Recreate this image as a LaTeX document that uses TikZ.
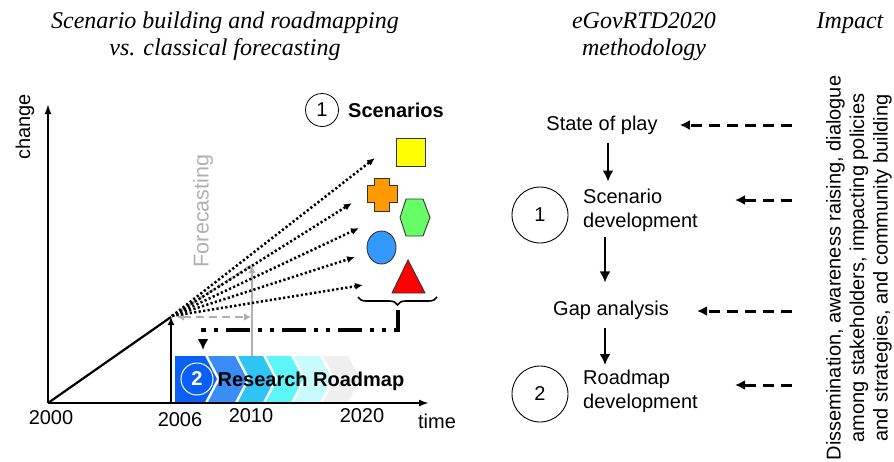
\documentclass[tikz,border=0pt]{standalone}
\usepackage{fontspec}
\setmainfont{Liberation Serif}
\setsansfont{Liberation Sans}
\usetikzlibrary{arrows.meta,decorations.pathreplacing,calc}
\definecolor{cA}{HTML}{0A5FF5}
\definecolor{cB}{HTML}{3A8DF5}
\definecolor{cC}{HTML}{2EC5F5}
\definecolor{cD}{HTML}{5EF5F8}
\definecolor{cE}{HTML}{C8FBFB}
\definecolor{cF}{HTML}{EFEFEF}
\definecolor{fgray}{HTML}{B0B0B0}
\definecolor{sqyellow}{HTML}{FFFF00}
\definecolor{crorange}{HTML}{FF9900}
\definecolor{hxgreen}{HTML}{66FF66}
\definecolor{ciblue}{HTML}{3399FF}
\definecolor{trred}{HTML}{FF0000}
\definecolor{outl}{HTML}{333333}
\begin{document}
\begin{tikzpicture}[x=1pt,y=-1pt,
  lbl/.style={font=\sffamily\fontsize{20}{24}\selectfont, inner sep=0pt},
  ttl/.style={font=\itshape\fontsize{24}{27}\selectfont, inner sep=0pt, anchor=base},
  axisline/.style={line width=2.6pt, -{Latex[length=10pt,width=7pt]}},
  fanline/.style={line width=2.5pt, dash pattern=on 2.2pt off 2.3pt, -{Latex[length=8pt,width=7pt]}},
  metharrow/.style={line width=2.5pt, -{Latex[length=11pt,width=11pt]}},
  impactarrow/.style={line width=3pt, dash pattern=on 11pt off 7pt, -{Latex[length=10pt,width=10pt]}},
  shapeoutl/.style={draw=outl, line width=0.9pt}
]
\useasboundingbox (0,0) rectangle (894,461);

% ---------- titles ----------
\node[ttl] (t1) at (225,28) {Scenario building and roadmapping};
\node[ttl] (t2) at (225,55) {vs. classical forecasting};
\node[ttl] (t3) at (644,28) {eGovRTD2020};
\node[ttl] (t4) at (644,55) {methodology};
\node[ttl] (t5) at (850,28) {Impact};

% ---------- left chart ----------
\coordinate (orig) at (48,403);
\coordinate (xend) at (429,403);
\coordinate (yend) at (48,104);
\coordinate (now) at (171,317);
\coordinate (nowbase) at (171,403);

% grey forecast lines
\coordinate (fctop) at (252,265);
\coordinate (fcbase) at (252,403);
\draw[fgray, line width=2.2pt, -{Latex[length=8pt,width=7pt]}] (fcbase) -- (fctop);
\draw[fgray, line width=2.4pt, dash pattern=on 7pt off 4pt] (180,311) -- (fctop);
\coordinate (dbl1) at (177,317);
\coordinate (dbl2) at (251,317);
\draw[fgray, line width=2.8pt, dash pattern=on 8pt off 5pt, {Latex[length=7pt,width=8pt]}-{Latex[length=7pt,width=8pt]}] (dbl1) -- (dbl2);

% roadmap chevrons
\fill[cA] (175,356) -- (205,356) -- (217,379) -- (205,402) -- (175,402) -- cycle;
\foreach \p/\t/\c in {217/247/cB, 247/275/cC, 275/303/cD, 303/332/cE, 332/360/cF}{
  \fill[\c] (\p-9,356) -- (\t-12,356) -- (\t,379) -- (\t-12,402) -- (\p-9,402) -- (\p+3,379) -- cycle;
}
\node[circle, draw=white, fill=cA, text=white, line width=1pt, minimum size=32pt, inner sep=0pt,
      font=\sffamily\bfseries\fontsize{20}{24}\selectfont] (rm2) at (197,379) {2};
\node[font=\sffamily\bfseries\fontsize{20}{24}\selectfont, inner sep=0pt] (rmtext) at (311,381) {Research Roadmap};

% axes
\draw[axisline] (orig) -- (xend);
\draw[axisline] (orig) -- (yend);
\draw[line width=2.2pt] (orig) -- (now);
\draw[line width=2.2pt, -{Latex[length=8pt,width=7pt]}] (nowbase) -- (now);

\node[lbl, rotate=90] (change) at (25,127) {change};
\node[lbl] (time) at (437,421) {time};
\node[lbl] (y2000) at (51,418) {2000};
\node[lbl] (y2006) at (180,420) {2006};
\node[lbl] (y2010) at (251,416) {2010};
\node[lbl] (y2020) at (362,416) {2020};
\node[lbl, rotate=90, text=fgray, font=\sffamily\fontsize{21.5}{24}\selectfont] (fc) at (203,211) {Forecasting};

% scenario shapes
\fill[sqyellow, shapeoutl] (396,138) rectangle (425,166);
\fill[crorange, shapeoutl] (374,178) -- (389,178) -- (389,185) -- (397,185) -- (397,202) -- (389,202) -- (389,211)
   -- (374,211) -- (374,202) -- (367,202) -- (367,185) -- (374,185) -- cycle;
\fill[hxgreen, shapeoutl] (406,199) -- (423,199) -- (430,217.5) -- (423,236) -- (406,236) -- (400,217.5) -- cycle;
\fill[ciblue, shapeoutl] (381.5,247.5) ellipse [x radius=14.5, y radius=16.5];
\fill[trred, shapeoutl] (408,260) -- (425,293) -- (392,293) -- cycle;

% fan of scenarios
\coordinate (fan0) at (172,316);
\coordinate (f1) at (375,158);
\coordinate (f2) at (352,203);
\coordinate (f3) at (359,228);
\coordinate (f4) at (355,257);
\coordinate (f5) at (363,285);
\foreach \f in {f1,f2,f3,f4,f5}{ \draw[fanline] (fan0) -- (\f); }

% scenarios label
\node[circle, draw, line width=0.8pt, minimum size=33pt, inner sep=0pt,
      font=\sffamily\fontsize{20}{24}\selectfont] (sc1) at (322,110) {1};
\node[font=\sffamily\bfseries\fontsize{20}{24}\selectfont, inner sep=0pt] (scen) at (396,110) {Scenarios};

% brace and dash-dot connector
\draw[decorate, decoration={brace, mirror, amplitude=8pt}, line width=1.6pt] (358,297) -- (437,297);
\coordinate (btip) at (397.5,310);
\coordinate (bend) at (203,330);
\coordinate (rmin) at (203,350);
\draw[line width=4pt, dash pattern=on 24pt off 8pt on 4pt off 8pt on 4pt off 8pt, -{Latex[length=11pt,width=11pt]}]
   (btip) |- (bend) -- (rmin);

% ---------- methodology ----------
\node[lbl] (sop) at (602,125) {State of play};
\node[lbl, align=left, anchor=west, font=\sffamily\fontsize{20}{24}\selectfont] (scdev) at (583,210) {Scenario\\development};
\node[circle, draw, line width=0.9pt, minimum size=56pt, inner sep=0pt, font=\sffamily\fontsize{20}{24}\selectfont] (m1) at (540,215) {1};
\node[lbl] (gap) at (611,310) {Gap analysis};
\node[lbl, align=left, anchor=west, font=\sffamily\fontsize{20}{24}\selectfont] (rmdev) at (583,391) {Roadmap\\development};
\node[circle, draw, line width=0.9pt, minimum size=56pt, inner sep=0pt, font=\sffamily\fontsize{20}{24}\selectfont] (m2) at (540,394) {2};

\draw[metharrow] ($(sop.south)+(6,8)$) -- ($(sop.south)+(6,47)$);
\draw[metharrow] (605,237) -- ($(gap.north)+(-6,-18)$);
\draw[metharrow] ($(gap.south)+(-6,8)$) -- (605,365);

% impact
\node[lbl, rotate=90, align=center, font=\sffamily\fontsize{20}{23.5}\selectfont] (imp) at (859,268)
  {Dissemination, awareness raising, dialogue\\among stakeholders, impacting policies\\and strategies, and community building};
\coordinate (i1) at (792,125);
\coordinate (i2) at (792,200);
\coordinate (i3) at (792,311);
\coordinate (i4) at (792,385);
\draw[impactarrow] (i1) -- ($(sop.east)+(22,0)$);
\draw[impactarrow] (i2) -- (735,200);
\draw[impactarrow] (i3) -- ($(gap.east)+(28,1)$);
\draw[impactarrow] (i4) -- (735,385);
\end{tikzpicture}
\end{document}
